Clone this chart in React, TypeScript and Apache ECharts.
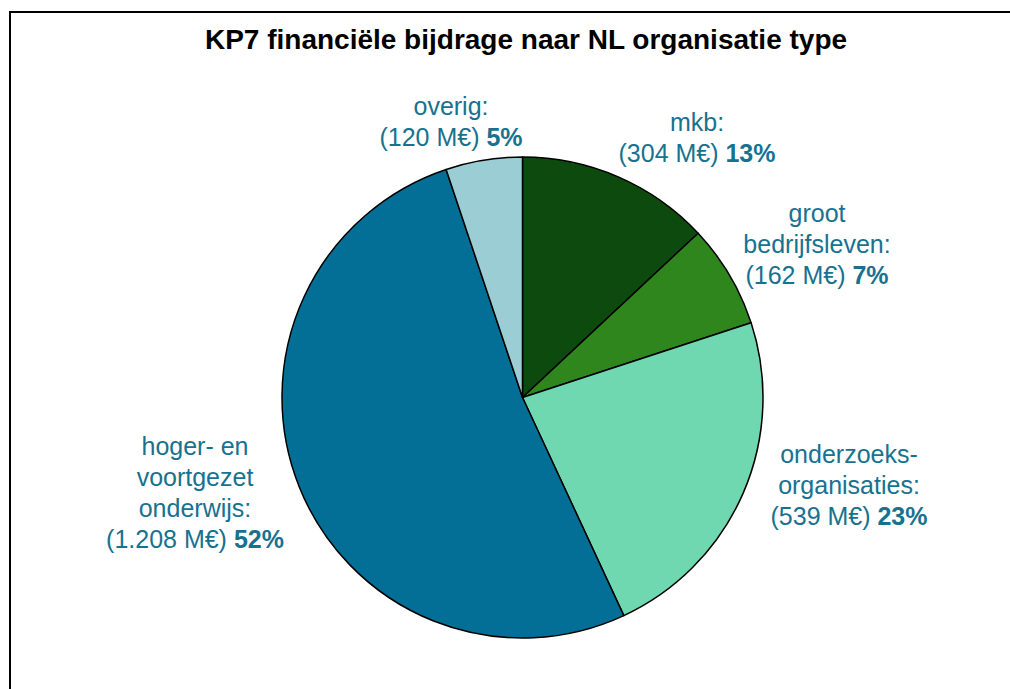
import React, { useEffect, useRef } from "react";
import * as echarts from "echarts";

const categories = ["mkb", "groot\nbedrijfsleven", "onderzoeks-\norganisaties", "hoger- en\nvoortgezet\nonderwijs", "overig"];
const values = [304, 162, 539, 1208, 120];
const amountLabels = ["304", "162", "539", "1.208", "120"];
const colors = ["#0d4a0e", "#2e861d", "#6fd8b0", "#046f96", "#9bcdd4"];
const labelCenters = [
  [697, 137],
  [817, 244],
  [849, 485],
  [195, 492],
  [451, 121],
];

export default function App() {
  const ref = useRef<HTMLDivElement>(null);
  useEffect(() => {
    document.body.style.margin = "0";
    const chart = echarts.init(ref.current!, null, { renderer: "svg" });
    const total = values.reduce((a, b) => a + b, 0);
    const data = categories.map((c, i) => ({
      name: c,
      value: values[i],
      itemStyle: { color: colors[i] },
    }));
    chart.setOption({
      animation: false,
      backgroundColor: "#ffffff",
      title: {
        text: "KP7 financiële bijdrage naar NL organisatie type",
        left: 521,
        top: 20,
        textAlign: "center",
        textStyle: {
          fontFamily: "Liberation Sans, Arial, sans-serif",
          fontSize: 28,
          fontWeight: "bold",
          color: "#000",
        },
      },
      graphic: [
        {
          type: "rect",
          shape: { x: 10, y: 12, width: 1100, height: 800 },
          style: { fill: "none", stroke: "#000", lineWidth: 2 },
          silent: true,
        },
      ],
      series: [
        {
          type: "pie",
          center: [522.5, 397.5],
          radius: 240.5,
          startAngle: 90,
          clockwise: true,
          data,
          itemStyle: { borderColor: "#000", borderWidth: 1.5 },
          labelLine: { show: false },
          label: {
            show: true,
            position: "outside",
            formatter: (p: any) => {
              const i = p.dataIndex;
              const lines = (categories[i] + ":").split("\n").map((l) => `{n|${l}}`);
              const pct = Math.round((values[i] / total) * 100);
              lines.push(`{n|(${amountLabels[i]} M€) }{b|${pct}%}`);
              return lines.join("\n");
            },
            rich: {
              n: {
                fontFamily: "Liberation Sans, Arial, sans-serif",
                fontSize: 25,
                color: "#17728f",
                lineHeight: 31,
              },
              b: {
                fontFamily: "Liberation Sans, Arial, sans-serif",
                fontSize: 25,
                fontWeight: "bold",
                color: "#17728f",
                lineHeight: 31,
              },
            },
            align: "center",
          },
          labelLayout: (params: any) => {
            const c = labelCenters[params.dataIndex];
            return { x: c[0], y: c[1], align: "center", verticalAlign: "middle", hideOverlap: false };
          },
        },
      ],
    });
    return () => chart.dispose();
  }, []);
  return <div ref={ref} style={{ width: 1010, height: 689 }} />;
}
